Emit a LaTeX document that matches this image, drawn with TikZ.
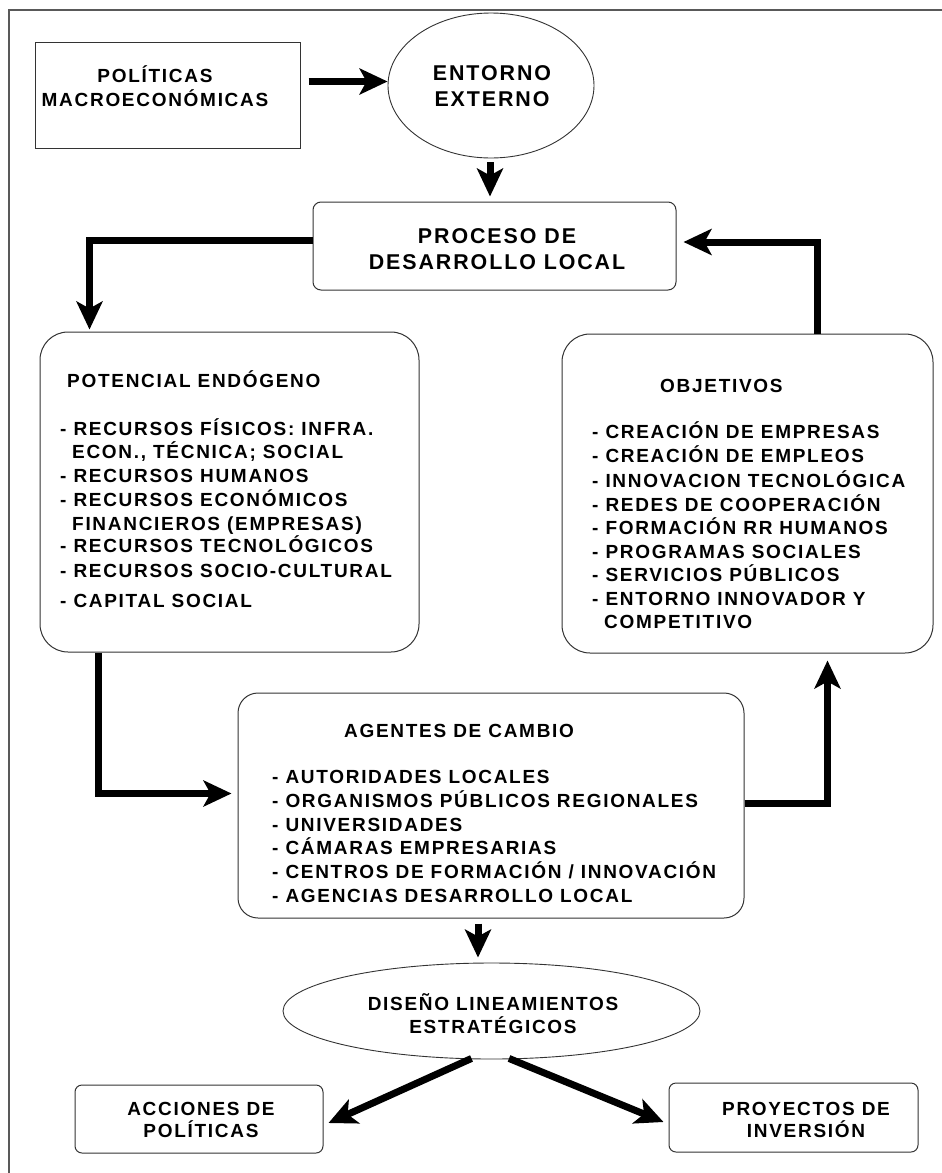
\documentclass[tikz,border=0pt]{standalone}
\usepackage{fontspec}
\setmainfont{Liberation Sans}[LetterSpace=9]
\usetikzlibrary{arrows.meta,shapes.geometric,calc}
\begin{document}
\begin{tikzpicture}[x=1pt,y=-1pt,
  box/.style={draw=black!80, line width=1pt, inner sep=0pt},
  rbox/.style={box, rounded corners=#1},
  oval/.style={ellipse, draw=black!80, line width=0.9pt, inner sep=0pt},
  lbl/.style={inner sep=0pt, font=\fontsize{19pt}{22pt}\selectfont\bfseries},
  big/.style={inner sep=0pt, font=\fontsize{21.4pt}{24pt}\selectfont\bfseries},
  arr/.style={line width=7pt, -{Stealth[length=28pt,width=26pt,inset=7pt]}},
]
\useasboundingbox (0,0) rectangle (942,1173);

% outer frame
\draw[black!65, line width=2pt] (942,10) -- (9,10) -- (9,1173);

% boxes
\node[box, minimum width=265pt, minimum height=106pt] (pol) at (167.5,95) {};
\node[oval, minimum width=206pt, minimum height=145pt] (ent) at (491,85.5) {};
\node[rbox=8pt, minimum width=363pt, minimum height=88pt] (pro) at (494.5,246) {};
\node[rbox=28pt, minimum width=379pt, minimum height=320pt] (pot) at (229.5,492) {};
\node[rbox=28pt, minimum width=371pt, minimum height=319pt] (obj) at (747.5,493.5) {};
\node[rbox=20pt, minimum width=506pt, minimum height=225pt] (age) at (491,805.5) {};
\node[oval, minimum width=417pt, minimum height=96pt] (dis) at (491.5,1011) {};
\node[rbox=7pt, minimum width=248pt, minimum height=68pt] (acc) at (199,1119) {};
\node[rbox=7pt, minimum width=249pt, minimum height=69pt] (proy) at (793.5,1117.5) {};

% centred labels
\node[lbl, anchor=base] (pol-a) at (155,82) {POLÍTICAS};
\node[lbl, anchor=base] (pol-b) at (155,106) {MACROECONÓMICAS};
\node[big, anchor=base] (ent-a) at (492,80) {ENTORNO};
\node[big, anchor=base] (ent-b) at (492,106) {EXTERNO};
\node[big, anchor=base] (pro-a) at (497,243) {PROCESO DE};
\node[big, anchor=base] (pro-b) at (497,269) {DESARROLLO LOCAL};
\node[lbl, anchor=base] (dis-a) at (493,1010) {DISEÑO LINEAMIENTOS};
\node[lbl, anchor=base] (dis-b) at (493,1033) {ESTRATÉGICOS};
\node[lbl, anchor=base] (acc-a) at (201,1115) {ACCIONES DE};
\node[lbl, anchor=base] (acc-b) at (201,1137) {POLÍTICAS};
\node[lbl, anchor=base] (proy-a) at (806,1115) {PROYECTOS DE};
\node[lbl, anchor=base] (proy-b) at (806,1137) {INVERSIÓN};

% potencial endogeno
\node[lbl, anchor=base west] (pot-t) at (67,387) {POTENCIAL ENDÓGENO};
\node[lbl, anchor=base west] (pot-1) at (60,435) {- RECURSOS FÍSICOS: INFRA.};
\node[lbl, anchor=base west] (pot-2) at (72,458) {ECON., TÉCNICA; SOCIAL};
\node[lbl, anchor=base west] (pot-3) at (60,482) {- RECURSOS HUMANOS};
\node[lbl, anchor=base west] (pot-4) at (60,506) {- RECURSOS ECONÓMICOS};
\node[lbl, anchor=base west] (pot-5) at (72,530) {FINANCIEROS (EMPRESAS)};
\node[lbl, anchor=base west] (pot-6) at (60,552) {- RECURSOS TECNOLÓGICOS};
\node[lbl, anchor=base west] (pot-7) at (60,577) {- RECURSOS SOCIO-CULTURAL};
\node[lbl, anchor=base west] (pot-8) at (60,607) {- CAPITAL SOCIAL};

% objetivos
\node[lbl, anchor=base west] (obj-t) at (660,392) {OBJETIVOS};
\node[lbl, anchor=base west] (obj-1) at (592,438) {- CREACIÓN DE EMPRESAS};
\node[lbl, anchor=base west] (obj-2) at (592,462) {- CREACIÓN DE EMPLEOS};
\node[lbl, anchor=base west] (obj-3) at (592,487) {- INNOVACION TECNOLÓGICA};
\node[lbl, anchor=base west] (obj-4) at (592,511) {- REDES DE COOPERACIÓN};
\node[lbl, anchor=base west] (obj-5) at (592,534) {- FORMACIÓN RR HUMANOS};
\node[lbl, anchor=base west] (obj-6) at (592,558) {- PROGRAMAS SOCIALES};
\node[lbl, anchor=base west] (obj-7) at (592,581) {- SERVICIOS PÚBLICOS};
\node[lbl, anchor=base west] (obj-8) at (592,605) {- ENTORNO INNOVADOR Y};
\node[lbl, anchor=base west] (obj-9) at (604,628) {COMPETITIVO};

% agentes de cambio
\node[lbl, anchor=base west] (age-t) at (344,737) {AGENTES DE CAMBIO};
\node[lbl, anchor=base west] (age-1) at (272,783) {- AUTORIDADES LOCALES};
\node[lbl, anchor=base west] (age-2) at (272,807) {- ORGANISMOS PÚBLICOS REGIONALES};
\node[lbl, anchor=base west] (age-3) at (272,831) {- UNIVERSIDADES};
\node[lbl, anchor=base west] (age-4) at (272,854) {- CÁMARAS EMPRESARIAS};
\node[lbl, anchor=base west] (age-5) at (272,878) {- CENTROS DE FORMACIÓN / INNOVACIÓN};
\node[lbl, anchor=base west] (age-6) at (272,902) {- AGENCIAS DESARROLLO LOCAL};

% connectors
\draw[arr] ($(pol.east |- ent.west)+(8,-4)$) -- ($(ent.west)+(0,-4)$);
\draw[arr] ($(ent.south)+(-1,4)$) -- ($(ent.south |- pro.north)+(-1,-5)$);
\draw[arr] ($(pro.west)+(0,-6)$) -| ($(pot.north west)+(50,-2)$);
\draw[arr] ($(obj.north west)+(256,0)$) |- ($(pro.east)+(7,-4)$);
\draw[arr] ($(pot.south west)+(59,0)$) |- ($(age.west)+(-6,-12)$);
\draw[arr] ($(age.east)+(0,-2.5)$) -| ($(obj.south west)+(266,7)$);
\draw[arr] ($(age.south)+(-13,5)$) -- ($(dis.north)+(-13.5,-5)$);
\draw[arr] ($(dis.south)+(-20,-1)$) -- ($(acc.east)+(5,4)$);
\draw[arr] ($(dis.south)+(17.5,-1)$) -- ($(proy.west)+(-5,4.5)$);
\end{tikzpicture}
\end{document}
